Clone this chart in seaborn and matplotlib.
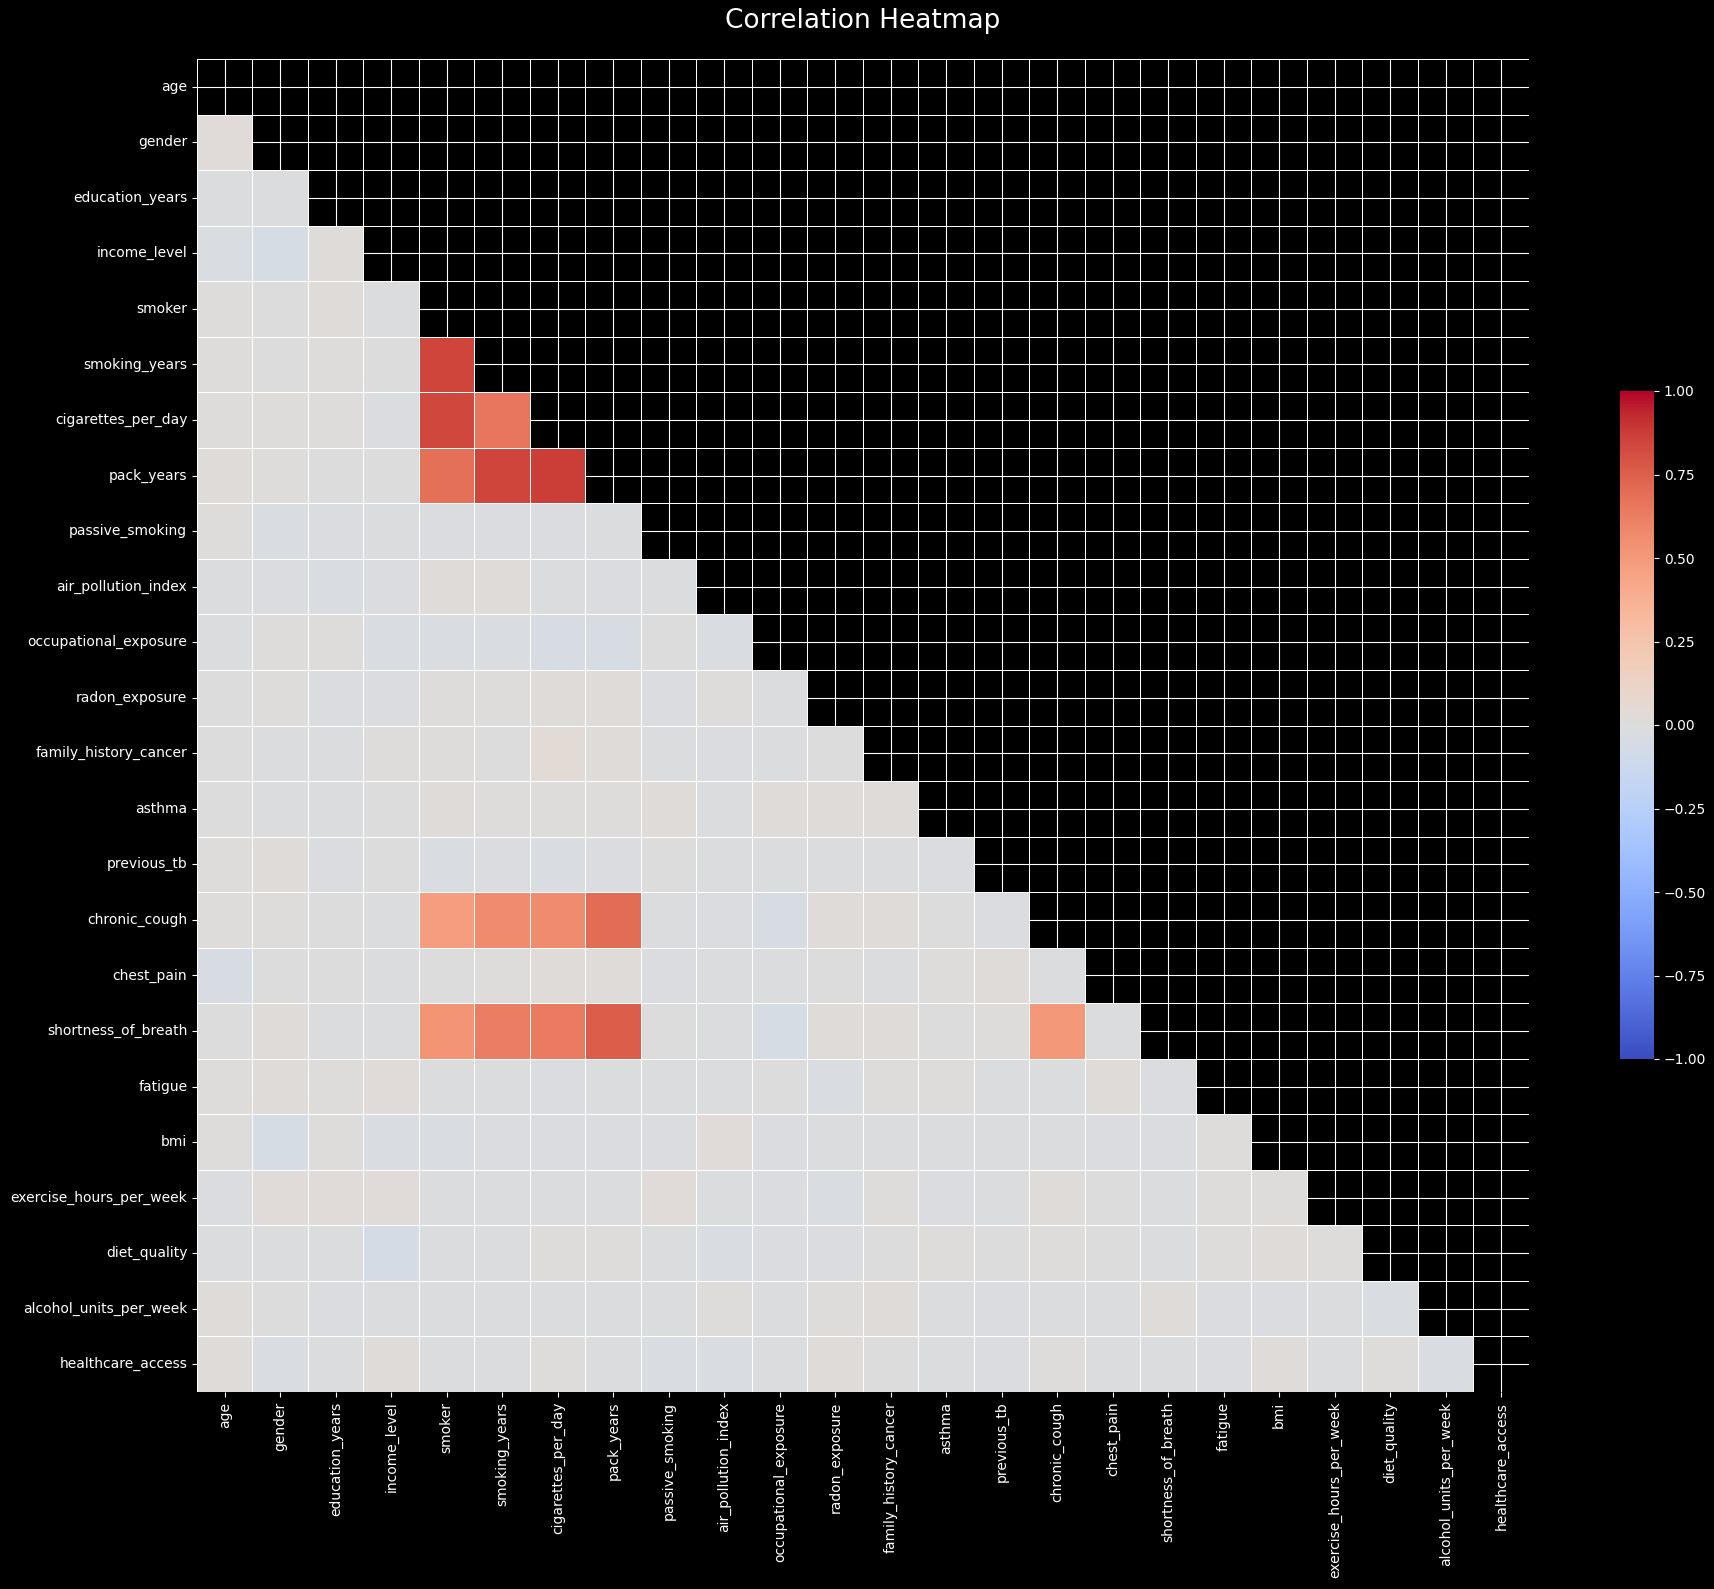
import numpy as np
import pandas as pd
import matplotlib
matplotlib.use("Agg")
import matplotlib.pyplot as plt
import seaborn as sns

features = ["age", "gender", "education_years", "income_level", "smoker",
            "smoking_years", "cigarettes_per_day", "pack_years", "passive_smoking",
            "air_pollution_index", "occupational_exposure", "radon_exposure",
            "family_history_cancer", "asthma", "previous_tb", "chronic_cough",
            "chest_pain", "shortness_of_breath", "fatigue", "bmi",
            "exercise_hours_per_week", "diet_quality", "alcohol_units_per_week",
            "healthcare_access"]

# lower triangle (row i holds corr with columns 0..i-1)
gender_row = [0.03]
education_years_row = [-0.01, -0.01]
income_level_row = [-0.03, -0.05, 0.02]
smoker_row = [0.01, 0.0, 0.02, -0.01]
smoking_years_row = [0.01, 0.0, 0.01, 0.0, 0.85]
cigarettes_per_day_row = [0.01, 0.01, 0.01, -0.02, 0.84, 0.66]
pack_years_row = [0.02, 0.01, 0.0, 0.0, 0.68, 0.85, 0.87]
passive_smoking_row = [0.01, -0.03, -0.02, -0.01, -0.02, -0.02, -0.02, -0.01]
air_pollution_index_row = [-0.01, -0.02, -0.03, -0.02, 0.02, 0.02, -0.01, -0.02, -0.01]
occupational_exposure_row = [-0.01, 0.01, 0.01, -0.03, -0.03, -0.03, -0.04, -0.04, 0.0, -0.03]
radon_exposure_row = [0.0, 0.01, -0.02, -0.02, 0.01, 0.01, 0.02, 0.02, -0.02, 0.01, -0.01]
family_history_cancer_row = [0.0, -0.01, -0.01, 0.01, 0.01, 0.0, 0.04, 0.02, -0.01, -0.02,
                             -0.01, 0.0]
asthma_row = [0.0, -0.01, -0.01, 0.0, 0.02, 0.01, 0.01, 0.01, 0.02, -0.01, 0.02, 0.02, 0.02]
previous_tb_row = [0.01, 0.02, -0.02, 0.0, -0.03, -0.02, -0.03, -0.02, 0.0, -0.01, -0.01,
                   -0.01, -0.01, -0.02]
chronic_cough_row = [0.01, 0.01, 0.0, -0.01, 0.48, 0.57, 0.57, 0.70, -0.01, -0.02, -0.04,
                     0.02, 0.02, 0.0, -0.02]
chest_pain_row = [-0.04, 0.0, 0.0, -0.01, 0.0, 0.01, 0.02, 0.02, -0.02, -0.01, -0.01, 0.0,
                  -0.01, 0.01, 0.02, -0.01]
shortness_of_breath_row = [0.0, 0.02, -0.01, -0.01, 0.53, 0.63, 0.64, 0.76, 0.0, -0.01,
                           -0.05, 0.02, 0.02, 0.0, 0.01, 0.50, -0.01]
fatigue_row = [0.01, 0.02, 0.01, 0.03, -0.01, -0.01, -0.02, -0.01, -0.01, -0.01, 0.0,
               -0.03, 0.01, 0.01, -0.01, -0.01, 0.02, -0.02]
bmi_row = [0.01, -0.05, 0.01, -0.03, -0.03, -0.02, -0.02, -0.02, -0.02, 0.03, -0.02,
           -0.01, -0.01, -0.01, -0.01, -0.01, -0.02, -0.02, 0.01]
exercise_hours_per_week_row = [-0.02, 0.03, 0.03, 0.03, -0.01, -0.01, -0.01, -0.01, 0.03,
                               -0.01, -0.02, -0.03, 0.01, -0.02, -0.01, 0.02, 0.0, -0.01,
                               0.01, 0.01]
diet_quality_row = [-0.01, -0.01, -0.01, -0.06, -0.01, -0.01, 0.01, 0.01, -0.01, -0.03,
                    -0.02, -0.02, 0.0, 0.01, 0.0, 0.01, 0.0, -0.01, 0.01, 0.02, 0.01]
alcohol_units_per_week_row = [0.02, 0.0, -0.02, -0.01, -0.01, -0.01, -0.01, -0.01, -0.01,
                              0.01, -0.01, 0.01, 0.02, -0.01, -0.02, -0.01, -0.01, 0.02,
                              -0.02, -0.02, -0.01, -0.03]
healthcare_access_row = [0.02, -0.03, -0.01, 0.02, -0.01, -0.01, 0.01, -0.01, -0.03, -0.03,
                         -0.01, 0.02, 0.0, -0.01, -0.02, 0.01, -0.01, -0.01, -0.02, 0.02,
                         -0.01, 0.01, -0.03]

lower_rows = [gender_row, education_years_row, income_level_row, smoker_row,
              smoking_years_row, cigarettes_per_day_row, pack_years_row,
              passive_smoking_row, air_pollution_index_row, occupational_exposure_row,
              radon_exposure_row, family_history_cancer_row, asthma_row, previous_tb_row,
              chronic_cough_row, chest_pain_row, shortness_of_breath_row, fatigue_row,
              bmi_row, exercise_hours_per_week_row, diet_quality_row,
              alcohol_units_per_week_row, healthcare_access_row]

n = len(features)
corr_vals = np.eye(n)
for i, row in enumerate(lower_rows, start=1):
    corr_vals[i, :i] = row
    corr_vals[:i, i] = row
corr = pd.DataFrame(corr_vals, index=features, columns=features)

plt.style.use("dark_background")

mask = np.triu(np.ones_like(corr, dtype=bool))

fig = plt.figure(figsize=(17.15, 15.89), dpi=100)
ax = fig.add_axes([197 / 1715, 1 - 1392 / 1589, 1332 / 1715, 1333 / 1589])
cax = fig.add_axes([1620 / 1715, 1 - 1059 / 1589, 34 / 1715, 668 / 1589])

sns.heatmap(corr, mask=mask, cmap="coolwarm", vmin=-1, vmax=1, center=0,
            linewidths=0.5, linecolor="white", ax=ax, cbar_ax=cax)

ax.set_axisbelow(True)
ax.grid(True, color="white", linewidth=0.8)
ax.tick_params(labelsize=10)
ax.set_title("Correlation Heatmap", fontsize=19, pad=22)
cax.tick_params(labelsize=10)

fig.savefig("out.png", dpi=100)
